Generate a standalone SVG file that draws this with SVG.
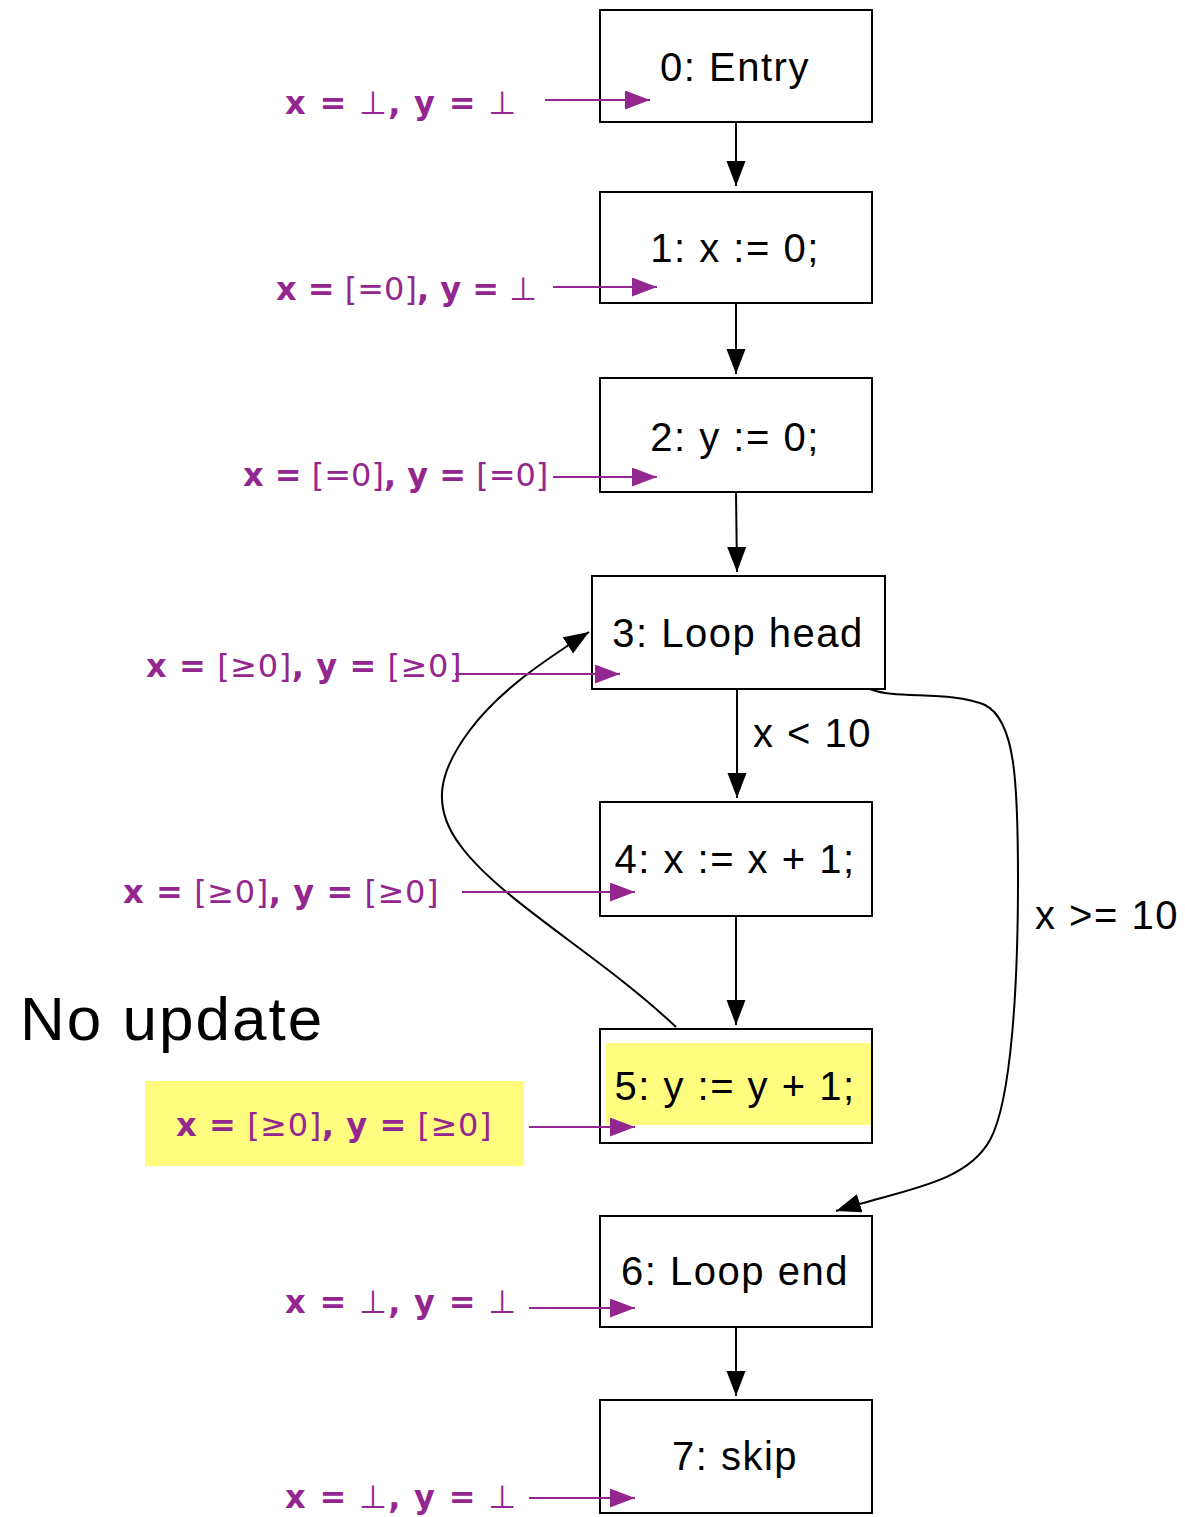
<svg xmlns="http://www.w3.org/2000/svg" width="1185" height="1517" viewBox="0 0 1185 1517">
  <defs>
    <marker id="arrow-black" markerUnits="userSpaceOnUse" markerWidth="26" markerHeight="20" refX="25" refY="9.5" orient="auto">
      <path d="M0,0 L25,9.5 L0,19 z" fill="#000"/>
    </marker>
    <marker id="arrow-purple" markerUnits="userSpaceOnUse" markerWidth="26" markerHeight="20" refX="25" refY="9.5" orient="auto">
      <path d="M0,0 L25,9.5 L0,19 z" fill="#93278F"/>
    </marker>
  </defs>
  <style>
    .box { fill: #fff; stroke: #000; stroke-width: 2; }
    .node-text { font-family: "Liberation Sans", Arial, sans-serif; font-size: 40px; letter-spacing: 1.5px; fill: #000; text-anchor: middle; }
    .edge { fill: none; stroke: #000; stroke-width: 2; marker-end: url(#arrow-black); }
    .edge-label { font-family: "Liberation Sans", Arial, sans-serif; font-size: 40px; letter-spacing: 1.5px; fill: #000; }
    .state { font-family: "DejaVu Sans", Verdana, sans-serif; font-size: 32px; fill: #93278F; }
    .state .b { font-weight: bold; }
    .wide { letter-spacing: 1.3px; }
    .mid { letter-spacing: 0.6px; }
    .probe { fill: none; stroke: #93278F; stroke-width: 2; marker-end: url(#arrow-purple); }
    .hl { fill: #FFFC7F; }
  </style>
  <rect width="1185" height="1517" fill="#fff"/>

  <!-- control-flow nodes -->
  <g id="node0">
    <rect class="box" x="600" y="10" width="272" height="112"/>
    <text class="node-text" x="735" y="81">0: Entry</text>
  </g>
  <g id="node1">
    <rect class="box" x="600" y="192" width="272" height="111"/>
    <text class="node-text" x="735" y="262">1: x := 0;</text>
  </g>
  <g id="node2">
    <rect class="box" x="600" y="378" width="272" height="114"/>
    <text class="node-text" x="735" y="451">2: y := 0;</text>
  </g>
  <g id="node3">
    <rect class="box" x="592" y="576" width="293" height="113"/>
    <text class="node-text" x="738" y="647">3: Loop head</text>
  </g>
  <g id="node4">
    <rect class="box" x="600" y="802" width="272" height="114"/>
    <text class="node-text" x="735" y="873">4: x := x + 1;</text>
  </g>
  <g id="node5">
    <rect class="box" x="600" y="1029" width="272" height="114"/>
    <rect class="hl" x="606" y="1043" width="265" height="82"/>
    <text class="node-text" x="735" y="1100">5: y := y + 1;</text>
  </g>
  <g id="node6">
    <rect class="box" x="600" y="1216" width="272" height="111"/>
    <text class="node-text" x="735" y="1285">6: Loop end</text>
  </g>
  <g id="node7">
    <rect class="box" x="600" y="1400" width="272" height="113"/>
    <text class="node-text" x="735" y="1470">7: skip</text>
  </g>

  <!-- control-flow edges -->
  <g id="edges">
    <path class="edge" d="M736,122 L736,186"/>
    <path class="edge" d="M736,303 L736,374"/>
    <path class="edge" d="M736,492 L737,572"/>
    <path class="edge" d="M737,689 L737,798"/>
    <path class="edge" d="M736,916 L736,1025"/>
    <path class="edge" d="M736,1327 L736,1396"/>
    <path class="edge" d="M676,1027 C 600,955 500,900 460,845 C 430,805 440,770 470,730 C 500,690 545,660 589,632"/>
    <path class="edge" d="M870,689 C 895,700 950,690 985,705 C 1015,720 1018,780 1018,880 C 1018,980 1012,1100 990,1140 C 965,1185 900,1190 836,1211"/>
    <text class="edge-label" x="753" y="747">x &lt; 10</text>
    <text class="edge-label" x="1035" y="929">x &gt;= 10</text>
  </g>

  <!-- abstract states flowing into each node -->
  <g id="states">
    <text class="state wide" x="285" y="114"><tspan class="b">x =</tspan> ⊥<tspan class="b">, y =</tspan> ⊥</text>
    <path class="probe" d="M545,100 L650,100"/>

    <text class="state" x="276" y="300"><tspan class="b">x =</tspan> [=0]<tspan class="b">, y =</tspan> ⊥</text>
    <path class="probe" d="M553,287 L657,287"/>

    <text class="state" x="243" y="486"><tspan class="b">x =</tspan> [=0]<tspan class="b">, y =</tspan> [=0]</text>
    <path class="probe" d="M553,477 L657,477"/>

    <text class="state mid" x="146" y="677"><tspan class="b">x =</tspan> [≥0]<tspan class="b">, y =</tspan> [≥0]</text>
    <path class="probe" d="M455,674 L620,674"/>

    <text class="state mid" x="123" y="903"><tspan class="b">x =</tspan> [≥0]<tspan class="b">, y =</tspan> [≥0]</text>
    <path class="probe" d="M462,892 L635,892"/>

    <rect class="hl" x="145" y="1081" width="379" height="85"/>
    <text class="state mid" x="176" y="1136"><tspan class="b">x =</tspan> [≥0]<tspan class="b">, y =</tspan> [≥0]</text>
    <path class="probe" d="M529,1127 L635,1127"/>

    <text class="state wide" x="285" y="1313"><tspan class="b">x =</tspan> ⊥<tspan class="b">, y =</tspan> ⊥</text>
    <path class="probe" d="M529,1308 L635,1308"/>

    <text class="state wide" x="285" y="1508"><tspan class="b">x =</tspan> ⊥<tspan class="b">, y =</tspan> ⊥</text>
    <path class="probe" d="M529,1498 L635,1498"/>
  </g>

  <text x="20" y="1040" font-family="Liberation Sans, Arial, sans-serif" font-size="62" letter-spacing="2" fill="#000">No update</text>
</svg>
